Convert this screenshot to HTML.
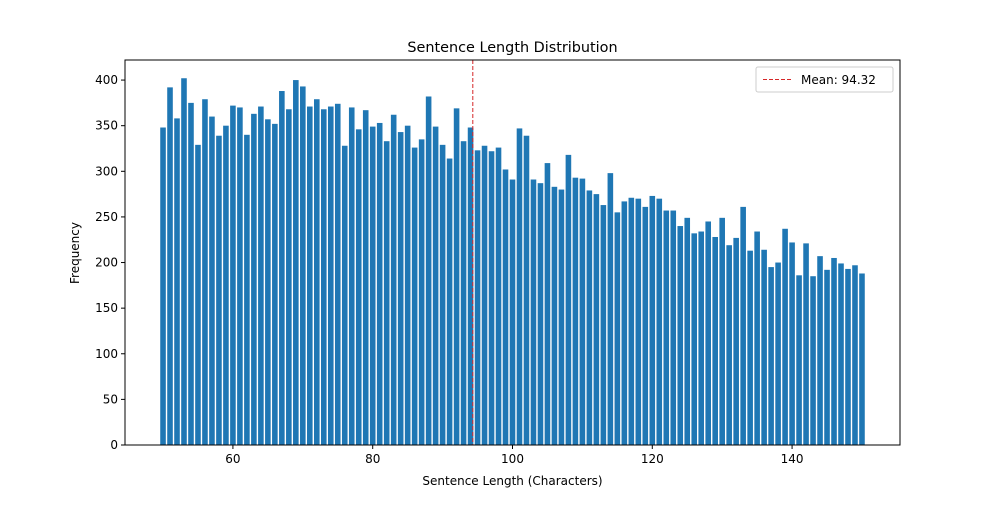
<!DOCTYPE html>
<html><head><meta charset="utf-8"><style>
body{margin:0;background:#fff;font-family:"Liberation Sans",sans-serif}
svg text{font-family:"DejaVu Sans","Liberation Sans",sans-serif;fill:#000}
</style></head><body>
<svg id="chart" width="1000" height="500" xmlns="http://www.w3.org/2000/svg">
<rect width="1000" height="500" fill="#fff"/>
<text x="512.5" y="52" font-size="14.4" text-anchor="middle">Sentence Length Distribution</text>
<g id="bars"></g>
<g id="axes"></g>
<text x="512.5" y="485" font-size="12" text-anchor="middle">Sentence Length (Characters)</text>
<text x="0" y="0" font-size="12" text-anchor="middle" transform="translate(79,253) rotate(-90)">Frequency</text>
<g>
<rect x="756" y="67" width="137" height="25" rx="2" fill="#fff" stroke="#ccc"/>
<line x1="763" y1="79.5" x2="791" y2="79.5" stroke="#d62728" stroke-width="1" stroke-dasharray="4,2"/>
<text x="801" y="84" font-size="12">Mean: 94.32</text>
</g>
</svg>
<script>
const lengths = [];
for (let i = 50; i <= 150; i++) lengths.push(i);
const frequencies = [348,392,358,402,375,329,379,360,339,350,372,370,340,363,371,357,352,388,368,400,393,371,379,368,371,374,328,370,346,367,349,353,333,362,343,350,326,335,382,349,329,314,369,333,348,323,328,322,326,302,291,347,339,291,287,309,283,280,318,293,292,279,275,263,298,255,267,271,270,261,273,270,257,257,240,249,232,234,245,228,249,219,227,261,213,234,214,195,200,237,222,186,221,185,207,192,205,199,193,197,188];
const meanValue = 94.32;
const xTicks = [60,80,100,120,140];
const yTicks = [0,50,100,150,200,250,300,350,400];

const L=125,R=900,T=60,B=445;
const xmin=44.56,xmax=155.44,ymax=422;
const sx=v=>L+(v-xmin)/(xmax-xmin)*(R-L);
const sy=v=>B-v/ymax*(B-T);
const NS="http://www.w3.org/2000/svg";
const bars=document.getElementById('bars');
lengths.forEach((len,i)=>{
  const r=document.createElementNS(NS,'rect');
  const x0=sx(len-0.4),x1=sx(len+0.4);
  r.setAttribute('x',x0);r.setAttribute('width',x1-x0);
  r.setAttribute('y',sy(frequencies[i]));r.setAttribute('height',B-sy(frequencies[i]));
  r.setAttribute('fill','#1f77b4');
  
  
  bars.appendChild(r);
});
const axes=document.getElementById('axes');
function add(tag,attrs,text){const e=document.createElementNS(NS,tag);for(const k in attrs)e.setAttribute(k,attrs[k]);if(text!==undefined)e.textContent=text;axes.appendChild(e);return e;}
const ml=add('line',{x1:sx(meanValue),x2:sx(meanValue),y1:T,y2:B,stroke:'#d62728','stroke-width':1,'stroke-dasharray':'4,2'});


const fr=add('rect',{x:L,y:T,width:R-L,height:B-T,fill:'none',stroke:'#000','stroke-width':1});


xTicks.forEach(t=>{
  add('line',{x1:sx(t),x2:sx(t),y1:B,y2:B+4,stroke:'#000'});
  const tx=add('text',{x:sx(t),y:B+18,'font-size':12,'text-anchor':'middle'},t);
  
  
});
yTicks.forEach(t=>{
  add('line',{x1:L-4,x2:L,y1:sy(t),y2:sy(t),stroke:'#000'});
  const tx=add('text',{x:L-7,y:sy(t)+4,'font-size':12,'text-anchor':'end'},t);
  
  
});
</script>
</body></html>
